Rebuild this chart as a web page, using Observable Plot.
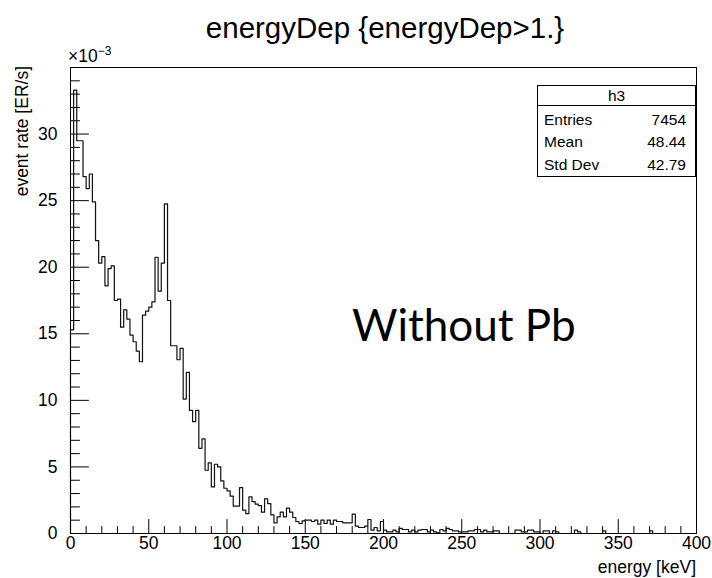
<!DOCTYPE html>
<html><head><meta charset="utf-8">
<script src="https://cdn.jsdelivr.net/npm/d3@7"></script>
<script src="https://cdn.jsdelivr.net/npm/@observablehq/plot@0.6"></script>
<style>
body{margin:0;background:#fff;}
#wrap{position:relative;width:712px;height:578px;}
</style></head><body><div id="wrap"></div>
<script>
// Histogram: energy deposit, 2 keV bins from 0 to 400 keV, event rate in units of 1e-3 ER/s
const binWidth = 2;
const rate = [
  15.3,33.3,29.5,29.5,26.8,25.9,27.0,24.9,22.0,20.3,
  20.8,18.6,19.9,20.1,17.5,17.6,15.5,16.8,16.1,14.9,
  14.4,13.7,12.9,16.4,16.7,17.0,17.4,20.75,18.2,20.3,
  24.75,17.5,14.1,14.1,13.05,13.9,10.1,12.1,9.25,8.4,
  9.25,6.4,7.1,4.75,5.3,3.5,5.2,5.0,3.95,3.4,
  3.2,2.8,2.05,2.05,3.45,1.75,1.5,2.75,2.4,2.2,
  2.1,1.6,2.6,2.25,1.4,0.8,1.25,1.6,1.25,1.9,
  1.6,1.2,0.9,0.75,0.95,1.0,1.0,0.9,1.0,0.7,
  1.0,0.75,1.0,0.7,1.0,0.9,0.9,0.8,0.8,0.8,
  1.45,0.55,0.45,0.45,0.55,1.05,0.25,0.45,0.2,0.9,
  0.25,0.12,0.12,0.25,0.12,0.38,0.3,0.3,0.12,0.25,
  0.12,0.25,0.3,0.3,0.12,0.25,0.12,0.05,0.3,0.2,
  0.38,0.3,0.2,0.2,0.12,0.12,0.12,0.2,0.2,0.3,
  0.3,0.12,0.25,0.12,0.12,0.2,0.2,0,0,0,
  0,0,0.25,0.25,0.12,0.12,0.25,0.25,0.12,0.12,
  0,0.2,0.2,0,0.2,0.12,0,0,0,0,
  0,0.25,0.12,0,0,0,0,0,0,0,
  0.2,0,0,0,0,0,0,0,0,0,
  0,0,0,0,0,0.2,0,0,0,0,
  0,0,0,0,0,0,0,0,0,0
];
const xDomain = [0, 400];
const yDomain = [0, 35];
const xLabels = [0, 50, 100, 150, 200, 250, 300, 350, 400];
const xMinorTicks = [10,20,30,40,60,70,80,90,110,120,130,140,160,170,180,190,210,220,230,240,260,270,280,290,310,320,330,340,360,370,380,390];
const yLabels = [0, 5, 10, 15, 20, 25, 30];
const yMinorTicks = [1,2,3,4,6,7,8,9,11,12,13,14,16,17,18,19,21,22,23,24,26,27,28,29,31,32,33,34];
const title = "energyDep {energyDep>1.}";
const xTitle = "energy [keV]";
const yTitle = "event rate [ER/s]";
const histName = "h3";
const statLabels = ["Entries", "Mean", "Std Dev"];
const statValues = ["7454", "48.44", "42.79"];
const annotation = "Without Pb";

// step outline points built from bins
const steps = [{e: 0, r: 0}];
rate.forEach((v, i) => { steps.push({e: i * binWidth, r: v}); steps.push({e: (i + 1) * binWidth, r: v}); });
steps.push({e: rate.length * binWidth, r: 0});

const tickShape = {draw(ctx, l) { ctx.moveTo(0, 0); ctx.lineTo(0, -l); }};
const font = "Liberation Sans, Arial, Helvetica, sans-serif";

const chart = Plot.plot({
  width: 712, height: 578,
  marginLeft: 70, marginRight: 16, marginTop: 67, marginBottom: 45,
  x: {domain: xDomain},
  y: {domain: yDomain},
  style: {fontFamily: font, fontSize: "17.5px", color: "#000", background: "#fff"},
  marks: [
    Plot.axisX({ticks: xLabels, tickSize: 0, tickPadding: 3, label: null, tickFormat: d => String(d), fontSize: 17.5}),
    Plot.axisY({ticks: yLabels, tickSize: 0, tickPadding: 13, label: null, tickFormat: d => String(d), fontSize: 17.5}),
    Plot.vector(xLabels, {x: d => d, y: yDomain[0], length: 14, rotate: 0, anchor: "start", shape: tickShape, stroke: "#000", strokeWidth: 1}),
    Plot.vector(xMinorTicks, {x: d => d, y: yDomain[0], length: 7, rotate: 0, anchor: "start", shape: tickShape, stroke: "#000", strokeWidth: 1}),
    Plot.vector(yLabels, {x: xDomain[0], y: d => d, length: 18, rotate: 90, anchor: "start", shape: tickShape, stroke: "#000", strokeWidth: 1}),
    Plot.vector(yMinorTicks, {x: xDomain[0], y: d => d, length: 9, rotate: 90, anchor: "start", shape: tickShape, stroke: "#000", strokeWidth: 1}),
    Plot.line(steps, {x: "e", y: "r", stroke: "#111", strokeWidth: 1.2}),
    Plot.frame({stroke: "#000", strokeWidth: 1})
  ]
});
document.getElementById("wrap").appendChild(chart);

const svg = d3.select(chart);
function txt(x, y, anchor, size, family) {
  return svg.append("text").attr("x", x).attr("y", y).attr("text-anchor", anchor)
    .attr("font-family", family || font).attr("font-size", size).attr("fill", "#000");
}
txt(385, 38, "middle", 29.5).text(title);
txt(696, 573, "end", 17.5).text(xTitle);
svg.append("text").attr("transform", "translate(28,66) rotate(-90)").attr("text-anchor", "end")
  .attr("font-family", font).attr("font-size", 17.5).attr("fill", "#000").text(yTitle);
const exp = txt(68, 62, "start", 17.5);
exp.append("tspan").text("\u00d710");
exp.append("tspan").attr("dy", -7).attr("font-size", 12).text("\u22123");

// stats box
svg.append("rect").attr("x", 537.5).attr("y", 85.5).attr("width", 158).attr("height", 91)
  .attr("fill", "#fff").attr("stroke", "#000").attr("stroke-width", 1);
svg.append("line").attr("x1", 537.5).attr("x2", 695.5).attr("y1", 105.5).attr("y2", 105.5).attr("stroke", "#000");
txt(616.5, 101, "middle", 15.5).text(histName);
const rowY = [125, 147, 169.5];
statLabels.forEach((l, i) => {
  txt(544, rowY[i], "start", 15.5).text(l);
  txt(686, rowY[i], "end", 15.5).text(statValues[i]);
});

txt(352, 341, "start", 44, "Lato, Open Sans, sans-serif").text(annotation);
</script></body></html>
